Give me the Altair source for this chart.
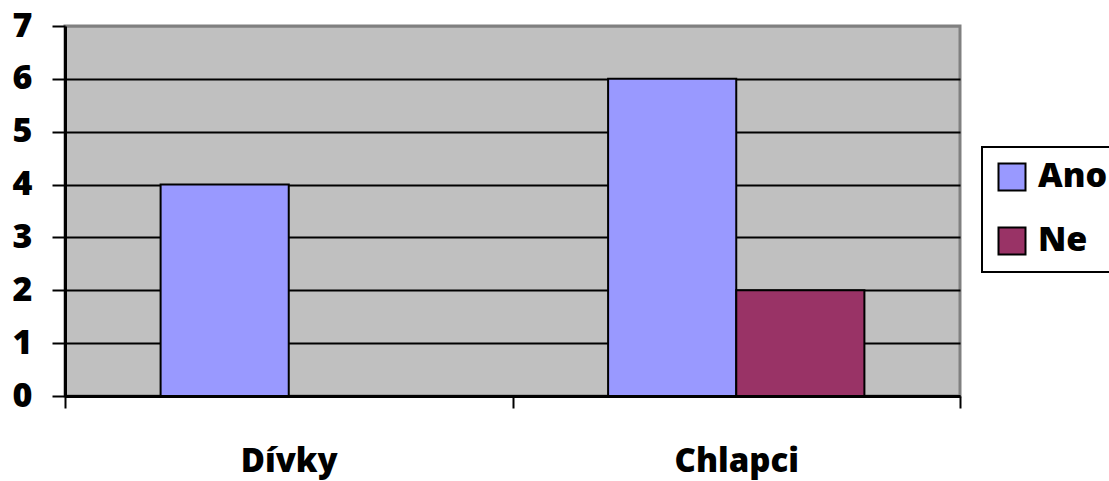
import altair as alt
import pandas as pd

# Survey answers by group
groups = ["Dívky", "Dívky", "Chlapci", "Chlapci"]
answers = ["Ano", "Ne", "Ano", "Ne"]
counts = [4, 0, 6, 2]

group_order = ["Dívky", "Chlapci"]
answer_order = ["Ano", "Ne"]
answer_colors = ["#9999FF", "#993366"]

df = pd.DataFrame({"skupina": groups, "odpoved": answers, "pocet": counts})
df = df[df["pocet"] > 0]

FONT = "Open Sans"

chart = (
    alt.Chart(df)
    .mark_bar(stroke="black", strokeWidth=2)
    .encode(
        x=alt.X(
            "skupina:N",
            sort=group_order,
            scale=alt.Scale(domain=group_order, paddingInner=0, paddingOuter=0),
            axis=alt.Axis(
                title=None,
                labelAngle=0,
                labelFont=FONT,
                labelFontWeight=800,
                labelFontSize=33,
                labelColor="black",
                labelPadding=37,
                tickBand="extent",
                tickColor="black",
                tickWidth=2,
                tickSize=12,
                domainColor="black",
                domainWidth=3,
                grid=False,
            ),
        ),
        xOffset=alt.XOffset(
            "odpoved:N",
            sort=answer_order,
            scale=alt.Scale(domain=answer_order, paddingInner=0, paddingOuter=0.746),
        ),
        y=alt.Y(
            "pocet:Q",
            scale=alt.Scale(domain=[0, 7], nice=False),
            axis=alt.Axis(
                title=None,
                values=[0, 1, 2, 3, 4, 5, 6, 7],
                labelFont=FONT,
                labelFontWeight=800,
                labelFontSize=34,
                labelColor="black",
                labelPadding=20,
                tickColor="black",
                tickWidth=2,
                tickSize=13,
                domainColor="black",
                domainWidth=3,
                grid=True,
                gridColor=alt.condition("datum.value == 7", alt.value("#808080"), alt.value("black")),
                gridWidth=2,
                gridOpacity=1,
            ),
        ),
        color=alt.Color(
            "odpoved:N",
            sort=answer_order,
            scale=alt.Scale(domain=answer_order, range=answer_colors),
            legend=alt.Legend(
                title=None,
                orient="none",
                legendX=917,
                legendY=121,
                symbolType="square",
                symbolSize=729,
                symbolStrokeColor="black",
                symbolStrokeWidth=2,
                symbolOpacity=1,
                labelFont=FONT,
                labelFontWeight=800,
                labelFontSize=34,
                labelColor="black",
                labelOffset=9,
                rowPadding=28,
                padding=13,
                strokeColor="black",
                fillColor="white",
            ),
        ),
    )
    .properties(
        width=895,
        height=370,
        autosize=alt.AutoSizeParams(type="none"),
        padding={"left": 65, "top": 26, "right": 149, "bottom": 85},
        background="white",
    )
    .configure_view(fill="#C0C0C0", stroke="#808080", strokeWidth=3)
    .configure_legend(strokeWidth=2)
)

chart.save("out.html", embed_options={"renderer": "svg", "actions": False})
